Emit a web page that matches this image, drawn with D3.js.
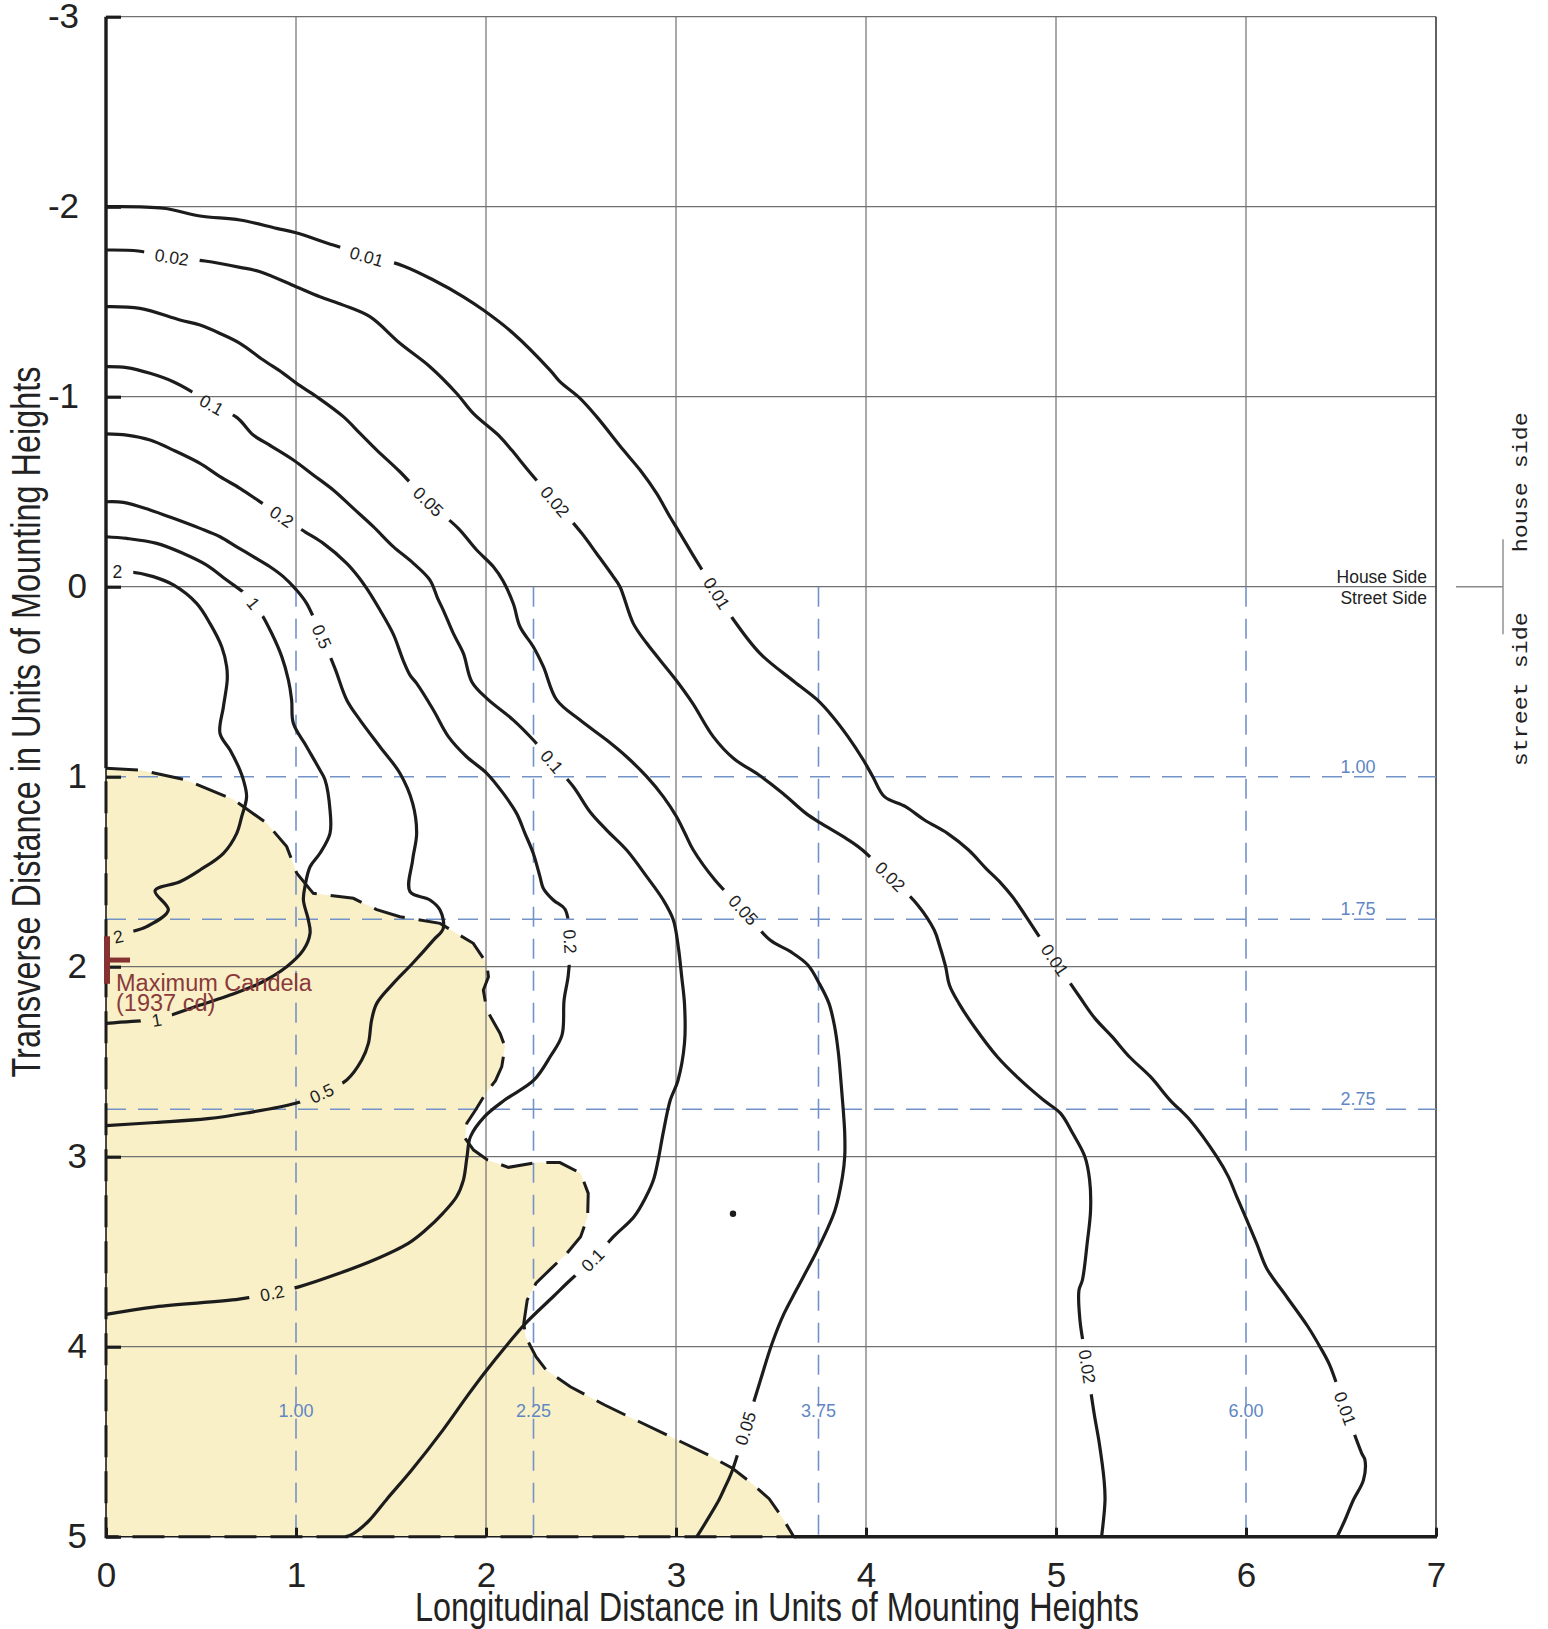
<!DOCTYPE html>
<html>
<head>
<meta charset="utf-8">
<title>Isofootcandle Plot</title>
<script src="https://d3js.org/d3.v7.min.js"></script>
<style>
  body { margin: 0; background: #fff; }
  svg { display: block; font-family: "Liberation Sans", Arial, sans-serif; }
</style>
</head>
<body>
<div id="chart"></div>
<script>
// Axis ticks (units of mounting heights)
var xTicks = [0, 1, 2, 3, 4, 5, 6, 7];
var yTicks = [-3, -2, -1, 0, 1, 2, 3, 4, 5];

// Blue dashed reference lines
var guideX = [1.00, 2.25, 3.75, 6.00];
var guideY = [1.00, 1.75, 2.75];

// Isofootcandle lines as [longitudinal, transverse]
var contour001 = [[0,-2.0],[0.302,-1.992],[0.495,-1.951],[0.705,-1.93],[0.898,-1.886],[1.0,-1.863],[1.196,-1.798],[1.372,-1.745],[1.565,-1.688],[1.723,-1.614],[1.881,-1.526],[1.986,-1.456],[2.144,-1.333],[2.337,-1.14],[2.389,-1.079],[2.495,-0.991],[2.582,-0.895],[2.723,-0.719],[2.811,-0.614],[2.898,-0.491],[2.968,-0.368],[3.021,-0.281],[3.1,-0.149],[3.214,0.035],[3.3,0.17],[3.442,0.351],[3.623,0.5],[3.744,0.596],[3.825,0.684],[3.905,0.789],[3.986,0.912],[4.036,1.0],[4.097,1.105],[4.208,1.158],[4.308,1.228],[4.429,1.298],[4.54,1.386],[4.631,1.482],[4.711,1.561],[4.771,1.632],[4.872,1.781],[4.993,1.965],[5.124,2.158],[5.205,2.272],[5.295,2.368],[5.386,2.474],[5.497,2.579],[5.6,2.702],[5.705,2.807],[5.846,3.0],[5.907,3.105],[5.951,3.21],[6.004,3.333],[6.056,3.456],[6.109,3.588],[6.214,3.737],[6.326,3.895],[6.389,4.0],[6.44,4.096],[6.521,4.325],[6.609,4.561],[6.626,4.596],[6.618,4.702],[6.565,4.807],[6.521,4.912],[6.48,5.0]];
var contour002 = [[0,-1.772],[0.17,-1.767],[0.346,-1.734],[0.521,-1.714],[0.705,-1.681],[0.811,-1.658],[1.0,-1.579],[1.126,-1.526],[1.249,-1.482],[1.389,-1.421],[1.547,-1.281],[1.705,-1.158],[1.846,-1.017],[1.933,-0.912],[2.074,-0.789],[2.135,-0.719],[2.228,-0.605],[2.363,-0.447],[2.504,-0.281],[2.582,-0.175],[2.67,-0.053],[2.705,0.0],[2.775,0.193],[2.846,0.298],[3.0,0.491],[3.088,0.614],[3.196,0.789],[3.302,0.903],[3.442,0.995],[3.563,1.088],[3.684,1.193],[3.764,1.246],[3.895,1.325],[3.976,1.382],[4.127,1.526],[4.272,1.675],[4.359,1.807],[4.389,1.895],[4.419,2.0],[4.439,2.096],[4.489,2.193],[4.57,2.316],[4.691,2.474],[4.812,2.596],[4.934,2.702],[5.024,2.772],[5.088,2.877],[5.152,3.0],[5.177,3.123],[5.182,3.281],[5.164,3.456],[5.139,3.649],[5.121,3.702],[5.126,3.86],[5.164,4.105],[5.202,4.36],[5.228,4.509],[5.253,4.702],[5.258,4.807],[5.24,5.0]];
var contour005 = [[0,-1.474],[0.179,-1.465],[0.389,-1.404],[0.495,-1.377],[0.6,-1.333],[0.705,-1.281],[0.828,-1.193],[0.933,-1.123],[1.003,-1.07],[1.109,-1.0],[1.249,-0.895],[1.337,-0.807],[1.425,-0.719],[1.547,-0.605],[1.696,-0.447],[1.854,-0.307],[1.951,-0.193],[2.039,-0.105],[2.09,-0.03],[2.144,0.09],[2.179,0.211],[2.249,0.316],[2.302,0.421],[2.372,0.596],[2.495,0.702],[2.635,0.807],[2.74,0.895],[2.846,1.0],[2.933,1.105],[3.003,1.211],[3.047,1.298],[3.091,1.386],[3.205,1.544],[3.354,1.702],[3.495,1.86],[3.603,1.921],[3.694,1.991],[3.754,2.088],[3.805,2.193],[3.835,2.316],[3.855,2.456],[3.869,2.614],[3.88,2.75],[3.888,2.877],[3.888,3.0],[3.876,3.105],[3.837,3.281],[3.786,3.404],[3.735,3.509],[3.633,3.702],[3.569,3.825],[3.506,3.982],[3.442,4.184],[3.366,4.43],[3.294,4.658],[3.251,4.754],[3.226,4.807],[3.11,5.0]];
var contour01 = [[0,-1.158],[0.109,-1.153],[0.232,-1.123],[0.354,-1.079],[0.442,-1.032],[0.556,-0.956],[0.688,-0.891],[0.775,-0.798],[0.846,-0.754],[0.986,-0.667],[1.091,-0.588],[1.196,-0.509],[1.302,-0.412],[1.407,-0.316],[1.512,-0.211],[1.618,-0.123],[1.705,-0.035],[1.745,0.06],[1.775,0.123],[1.828,0.246],[1.881,0.351],[1.925,0.5],[2.004,0.588],[2.144,0.702],[2.249,0.807],[2.346,0.921],[2.46,1.053],[2.547,1.184],[2.635,1.281],[2.74,1.386],[2.846,1.526],[2.933,1.649],[2.986,1.754],[3.012,1.895],[3.03,2.053],[3.045,2.2],[3.045,2.4],[3.01,2.6],[2.97,2.702],[2.932,2.877],[2.906,3.018],[2.881,3.123],[2.842,3.211],[2.779,3.316],[2.671,3.421],[2.562,3.544],[2.444,3.649],[2.353,3.737],[2.208,3.877],[2.118,3.982],[1.991,4.14],[1.899,4.263],[1.773,4.439],[1.609,4.649],[1.48,4.8],[1.38,4.92],[1.3,4.985],[1.26,5.0]];
var contour02 = [[0,-0.804],[0.109,-0.798],[0.232,-0.772],[0.354,-0.719],[0.495,-0.649],[0.6,-0.579],[0.705,-0.518],[0.802,-0.453],[0.925,-0.368],[1.047,-0.289],[1.144,-0.228],[1.267,-0.123],[1.33,-0.05],[1.372,0.009],[1.442,0.123],[1.512,0.25],[1.565,0.39],[1.6,0.465],[1.635,0.509],[1.723,0.649],[1.802,0.789],[1.898,0.895],[2.004,0.982],[2.091,1.088],[2.161,1.193],[2.205,1.298],[2.249,1.404],[2.284,1.526],[2.302,1.588],[2.354,1.649],[2.416,1.698],[2.442,1.868],[2.433,2.044],[2.411,2.175],[2.4,2.36],[2.34,2.47],[2.253,2.596],[2.098,2.702],[1.991,2.79],[1.918,2.895],[1.9,3.0],[1.881,3.123],[1.845,3.211],[1.773,3.298],[1.682,3.386],[1.591,3.456],[1.41,3.544],[1.228,3.614],[1.019,3.684],[0.874,3.719],[0.7,3.75],[0.26,3.79],[0,3.83]];
var contour05 = [[0,-0.447],[0.091,-0.444],[0.232,-0.404],[0.355,-0.36],[0.495,-0.307],[0.6,-0.263],[0.688,-0.21],[0.775,-0.158],[0.863,-0.105],[0.933,-0.053],[0.995,0.009],[1.056,0.088],[1.135,0.263],[1.205,0.43],[1.267,0.596],[1.337,0.702],[1.442,0.842],[1.547,0.982],[1.614,1.14],[1.635,1.298],[1.614,1.438],[1.6,1.605],[1.705,1.649],[1.758,1.702],[1.775,1.798],[1.723,1.86],[1.614,1.982],[1.512,2.088],[1.425,2.193],[1.398,2.281],[1.381,2.404],[1.346,2.491],[1.267,2.596],[1.135,2.667],[0.998,2.719],[0.74,2.77],[0.536,2.8],[0.26,2.82],[0,2.836]];
var contour1 = [[0,-0.263],[0.109,-0.254],[0.267,-0.228],[0.407,-0.175],[0.53,-0.114],[0.635,-0.035],[0.74,0.044],[0.775,0.088],[0.811,0.132],[0.872,0.245],[0.925,0.368],[0.96,0.491],[0.977,0.596],[0.986,0.719],[1.056,0.842],[1.126,0.965],[1.153,1.017],[1.179,1.175],[1.179,1.298],[1.126,1.403],[1.074,1.474],[1.047,1.579],[1.039,1.649],[1.065,1.754],[1.074,1.824],[1.039,1.912],[0.951,2.0],[0.81,2.087],[0.653,2.149],[0.495,2.202],[0.319,2.263],[0.267,2.281],[0.214,2.282],[0,2.298]];
var contour2 = [[0,-0.079],[0.06,-0.079],[0.117,-0.079],[0.249,-0.053],[0.355,-0.009],[0.477,0.088],[0.547,0.193],[0.609,0.316],[0.635,0.42],[0.638,0.491],[0.618,0.632],[0.6,0.772],[0.653,0.86],[0.705,0.965],[0.723,1.017],[0.74,1.105],[0.714,1.211],[0.688,1.298],[0.618,1.403],[0.495,1.491],[0.389,1.553],[0.258,1.6],[0.328,1.702],[0.214,1.789],[0.109,1.824],[0.065,1.842],[0,1.85]];

// Contour labels: [level, x, y]
var contourLabels = [
  ["0.01", 1.372, -1.737], ["0.01", 3.214, 0.035], ["0.01", 4.993, 1.965], ["0.01", 6.521, 4.325],
  ["0.02", 0.346, -1.734], ["0.02", 2.363, -0.447], ["0.02", 4.127, 1.526], ["0.02", 5.164, 4.105],
  ["0.05", 1.696, -0.447], ["0.05", 3.354, 1.702], ["0.05", 3.366, 4.43],
  ["0.1", 0.556, -0.956], ["0.1", 2.346, 0.921], ["0.1", 2.562, 3.544],
  ["0.2", 0.925, -0.368], ["0.2", 2.442, 1.868], ["0.2", 0.874, 3.719],
  ["0.5", 1.135, 0.263], ["0.5", 1.135, 2.667],
  ["1", 0.775, 0.088], ["1", 0.267, 2.281],
  ["2", 0.06, -0.079], ["2", 0.065, 1.842]
];

// Shaded area bounded by the dashed line
var highlightArea = [[0,0.956],[0.18,0.965],[0.42,1.017],[0.67,1.12],[0.846,1.245],[0.951,1.368],[1.004,1.508],[1.091,1.614],[1.302,1.64],[1.425,1.7],[1.547,1.737],[1.758,1.772],[1.933,1.877],[2.004,1.982],[2.013,2.053],[1.986,2.123],[2.004,2.228],[2.074,2.351],[2.1,2.421],[2.083,2.526],[2.05,2.6],[1.999,2.666],[1.945,2.754],[1.899,2.824],[1.89,2.903],[1.935,2.965],[2.008,3.017],[2.118,3.056],[2.263,3.031],[2.389,3.031],[2.498,3.087],[2.538,3.193],[2.535,3.316],[2.498,3.421],[2.426,3.508],[2.335,3.596],[2.263,3.666],[2.217,3.754],[2.199,3.877],[2.208,3.947],[2.263,4.053],[2.317,4.123],[2.444,4.211],[2.625,4.307],[2.807,4.395],[2.988,4.482],[3.17,4.57],[3.297,4.64],[3.4,4.72],[3.49,4.8],[3.56,4.9],[3.62,5.0],[0,5.0]];

var maxCandela = [0, 1.965];
var maxCandelaText = ["Maximum Candela", "(1937 cd)"];
var spot = [3.30, 3.30];

var contours = [
  { level: "0.01", points: contour001 },
  { level: "0.02", points: contour002 },
  { level: "0.05", points: contour005 },
  { level: "0.1", points: contour01 },
  { level: "0.2", points: contour02 },
  { level: "0.5", points: contour05 },
  { level: "1", points: contour1 },
  { level: "2", points: contour2 }
];

// SVG area
var width = 1548;
var height = 1629;
var plot = { left: 106, top: 16.7, right: 1436, bottom: 1536.7 };

var svg = d3.select("#chart")
  .append("svg")
  .attr("width", width)
  .attr("height", height);

svg.append("rect").attr("width", width).attr("height", height).attr("fill", "#fff");

var x = d3.scaleLinear().domain([0, 7]).range([plot.left, plot.right]);
var y = d3.scaleLinear().domain([-3, 5]).range([plot.top, plot.bottom]);

var defs = svg.append("defs");

// shaded area
var areaLine = d3.line().x(d => x(d[0])).y(d => y(d[1]));
svg.append("path")
  .attr("d", areaLine(highlightArea) + "Z")
  .attr("fill", "#f9f0c8");

// grid (guides replace the grid where they coincide)
var grid = svg.append("g").attr("stroke", "#707070").attr("stroke-width", 1.2);
grid.selectAll(".gx").data(xTicks.slice(1, -1)).enter().append("line")
  .attr("x1", d => x(d)).attr("x2", d => x(d))
  .attr("y1", y(-3)).attr("y2", d => guideX.indexOf(d) >= 0 ? y(0) : y(5));
grid.selectAll(".gy").data(yTicks.slice(0, -1).filter(d => guideY.indexOf(d) < 0)).enter().append("line")
  .attr("x1", x(0)).attr("x2", x(7))
  .attr("y1", d => y(d)).attr("y2", d => y(d));
svg.append("line")
  .attr("x1", x(7)).attr("x2", x(7)).attr("y1", y(-3)).attr("y2", y(5))
  .attr("stroke", "#505050").attr("stroke-width", 1.8);

// blue dashed guides
var guides = svg.append("g").attr("stroke", "#7393c8").attr("stroke-width", 1.6).attr("stroke-dasharray", "20,12");
guides.selectAll(".vx").data(guideX).enter().append("line")
  .attr("x1", d => x(d)).attr("x2", d => x(d))
  .attr("y1", y(0)).attr("y2", y(5));
guides.selectAll(".hy").data(guideY).enter().append("line")
  .attr("x1", x(0)).attr("x2", x(7))
  .attr("y1", d => y(d)).attr("y2", d => y(d));

svg.append("g").selectAll("text").data(guideX).enter().append("text")
  .attr("x", d => x(d)).attr("y", y(4.37))
  .attr("text-anchor", "middle").attr("font-size", 18).attr("fill", "#6087c3")
  .text(d => d.toFixed(2));
svg.append("g").selectAll("text").data(guideY).enter().append("text")
  .attr("x", x(6.59)).attr("y", d => y(d) - 4)
  .attr("text-anchor", "middle").attr("font-size", 18).attr("fill", "#6087c3")
  .text(d => d.toFixed(2));

// dashed outline of the shaded area
svg.append("path")
  .attr("d", areaLine(highlightArea) + "Z")
  .attr("fill", "none").attr("stroke", "#1c1c1c")
  .attr("stroke-width", 3).attr("stroke-dasharray", "32,14");

// axes lines (thin where the dashed outline runs along them)
var areaTop = highlightArea[0][1];
var areaRight = highlightArea[highlightArea.length - 2][0];
var axisLines = svg.append("g").attr("stroke", "#1c1c1c");
axisLines.append("line").attr("x1", x(0)).attr("x2", x(0)).attr("y1", y(-3)).attr("y2", y(areaTop)).attr("stroke-width", 3.4);
axisLines.append("line").attr("x1", x(0)).attr("x2", x(0)).attr("y1", y(areaTop)).attr("y2", y(5)).attr("stroke-width", 1.6);
axisLines.append("line").attr("x1", x(0)).attr("x2", x(areaRight)).attr("y1", y(5)).attr("y2", y(5)).attr("stroke-width", 1.6);
axisLines.append("line").attr("x1", x(areaRight)).attr("x2", x(7) + 1).attr("y1", y(5)).attr("y2", y(5)).attr("stroke-width", 3.4);

// contour labels first, so their widths can be measured for the gaps
var labelGroup = svg.append("g").attr("font-size", 17.5).attr("fill", "#1e1e1e");

function labelAngle(points, lx, ly) {
  var k = d3.minIndex(points, p => (p[0] - lx) * (p[0] - lx) + (p[1] - ly) * (p[1] - ly));
  var a = points[Math.max(k - 1, 0)];
  var b = points[Math.min(k + 1, points.length - 1)];
  var ang = Math.atan2(y(b[1]) - y(a[1]), x(b[0]) - x(a[0])) * 180 / Math.PI;
  if (ang > 90) ang -= 180;
  if (ang < -90) ang += 180;
  return ang;
}

var contourLine = d3.line()
  .x(d => x(d[0]))
  .y(d => y(d[1]))
  .curve(d3.curveCatmullRom.alpha(0.5));

var contourGroup = svg.insert("g", "g:last-of-type")
  .attr("fill", "none").attr("stroke", "#1c1c1c")
  .attr("stroke-width", 3.2).attr("stroke-linejoin", "round");

contours.forEach(function(c, i) {
  var mask = defs.append("mask")
    .attr("id", "gap" + i)
    .attr("maskUnits", "userSpaceOnUse")
    .attr("x", 0).attr("y", 0).attr("width", width).attr("height", height);
  mask.append("rect").attr("width", width).attr("height", height).attr("fill", "#fff");

  contourLabels.filter(l => l[0] === c.level).forEach(function(l) {
    var ang = labelAngle(c.points, l[1], l[2]);
    var t = labelGroup.append("text")
      .attr("transform", `translate(${x(l[1])},${y(l[2])}) rotate(${ang})`)
      .attr("text-anchor", "middle")
      .attr("dy", "0.35em")
      .text(l[0]);
    var w = t.node().getComputedTextLength() + 22;
    mask.append("rect")
      .attr("x", -w / 2).attr("y", -10).attr("width", w).attr("height", 20)
      .attr("transform", `translate(${x(l[1])},${y(l[2])}) rotate(${ang})`)
      .attr("fill", "#000");
  });

  contourGroup.append("path")
    .attr("d", contourLine(c.points))
    .attr("mask", "url(#gap" + i + ")");
});

// small isolated spot
svg.append("circle")
  .attr("cx", x(spot[0])).attr("cy", y(spot[1])).attr("r", 3.2)
  .attr("fill", "#1c1c1c");

// axes with ticks
var leftAxis = d3.axisLeft(y).tickValues(yTicks).tickFormat(d => String(d))
  .tickSize(-15).tickSizeOuter(0).tickPadding(18);
var gLeft = svg.append("g")
  .attr("transform", `translate(${x(0)},0)`)
  .call(leftAxis);
gLeft.select(".domain").remove();
gLeft.selectAll(".tick line").attr("stroke", "#1c1c1c").attr("stroke-width", 3.2);
gLeft.selectAll(".tick text")
  .attr("font-size", 35).attr("font-family", "Liberation Sans, Arial, sans-serif").attr("fill", "#222")
  .attr("x", d => d < 0 ? -27 : -19);

var bottomAxis = d3.axisBottom(x).tickValues(xTicks).tickFormat(d => String(d))
  .tickSize(-9).tickSizeOuter(0).tickPadding(25);
var gBottom = svg.append("g")
  .attr("transform", `translate(0,${y(5)})`)
  .call(bottomAxis);
gBottom.select(".domain").remove();
gBottom.selectAll(".tick line").attr("stroke", "#1c1c1c").attr("stroke-width", 3);
gBottom.selectAll(".tick text")
  .attr("font-size", 35).attr("font-family", "Liberation Sans, Arial, sans-serif").attr("fill", "#222");

// maximum candela marker
var mark = svg.append("g").attr("stroke", "#863232");
mark.append("line")
  .attr("x1", x(maxCandela[0]) + 1).attr("x2", x(maxCandela[0]) + 1)
  .attr("y1", y(maxCandela[1] - 0.125)).attr("y2", y(maxCandela[1] + 0.125))
  .attr("stroke-width", 6);
mark.append("line")
  .attr("x1", x(maxCandela[0])).attr("x2", x(maxCandela[0]) + 24)
  .attr("y1", y(maxCandela[1])).attr("y2", y(maxCandela[1]))
  .attr("stroke-width", 5);
svg.append("g").selectAll("text").data(maxCandelaText).enter().append("text")
  .attr("x", x(maxCandela[0]) + 10)
  .attr("y", (d, i) => y(maxCandela[1]) + 31 + i * 20)
  .attr("font-size", 23.5).attr("fill", "#8a3a3a")
  .text(d => d);

// house / street side notes
svg.append("text").attr("x", x(7) - 9).attr("y", y(0) - 4)
  .attr("text-anchor", "end").attr("font-size", 17.5).attr("fill", "#222").text("House Side");
svg.append("text").attr("x", x(7) - 9).attr("y", y(0) + 17)
  .attr("text-anchor", "end").attr("font-size", 17.5).attr("fill", "#222").text("Street Side");

var side = svg.append("g").attr("stroke", "#8a8a8a").attr("stroke-width", 1.4);
side.append("line").attr("x1", 1456).attr("x2", 1503).attr("y1", y(0)).attr("y2", y(0));
side.append("line").attr("x1", 1503).attr("x2", 1503).attr("y1", y(-0.25)).attr("y2", y(0.25));

svg.append("text")
  .attr("transform", `translate(1527,${y(-0.55)}) rotate(-90)`)
  .attr("text-anchor", "middle").attr("font-size", 21)
  .attr("font-family", "Liberation Mono, DejaVu Sans Mono, monospace").attr("fill", "#222")
  .attr("textLength", 140).attr("lengthAdjust", "spacingAndGlyphs")
  .text("house side");
svg.append("text")
  .attr("transform", `translate(1527,${y(0.54)}) rotate(-90)`)
  .attr("text-anchor", "middle").attr("font-size", 21)
  .attr("font-family", "Liberation Mono, DejaVu Sans Mono, monospace").attr("fill", "#222")
  .attr("textLength", 154).attr("lengthAdjust", "spacingAndGlyphs")
  .text("street side");

// axis titles
svg.append("text")
  .attr("x", 777).attr("y", 1621)
  .attr("text-anchor", "middle").attr("font-size", 40).attr("fill", "#222")
  .attr("textLength", 724).attr("lengthAdjust", "spacingAndGlyphs")
  .text("Longitudinal Distance in Units of Mounting Heights");

svg.append("text")
  .attr("transform", "translate(40,722) rotate(-90)")
  .attr("text-anchor", "middle").attr("font-size", 40).attr("fill", "#222")
  .attr("textLength", 711).attr("lengthAdjust", "spacingAndGlyphs")
  .text("Transverse Distance in Units of Mounting Heights");
</script>
</body>
</html>
